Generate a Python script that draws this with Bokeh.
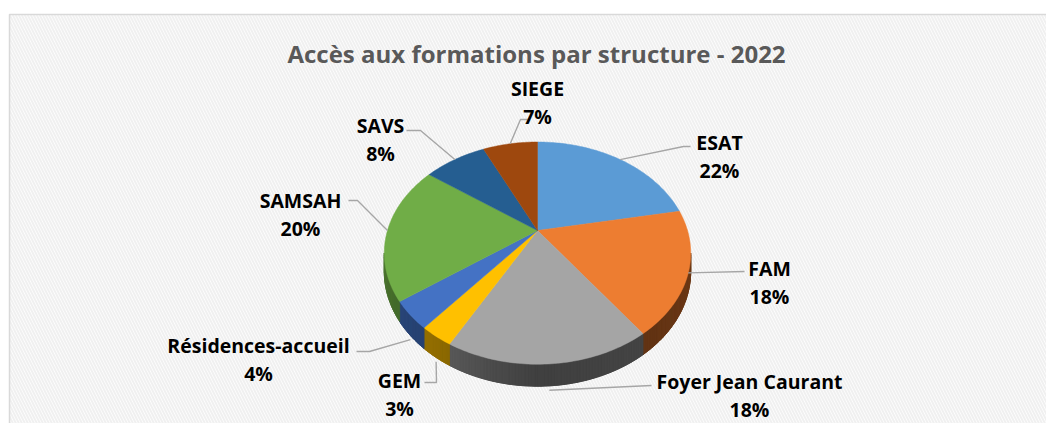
import numpy as np
from bokeh.plotting import figure
from bokeh.models import Range1d
from bokeh.core.properties import value
from bokeh.embed import file_html
from bokeh.resources import INLINE

# ---------------- data ----------------
title_text = "Accès aux formations par structure - 2022"
categories = ["ESAT", "FAM", "Foyer Jean Caurant", "GEM", "Résidences-accueil",
              "SAMSAH", "SAVS", "SIEGE"]
percents = [22, 18, 18, 3, 4, 20, 8, 7]
colors = ["#5B9BD5", "#ED7D31", "#A5A5A5", "#FFC000", "#4472C4",
          "#70AD47", "#255E91", "#9E480E"]

# ---------------- layout ----------------
W, H = 1046, 423
CX, CY = 537, 230            # apex of the pie (screen px)
RX, RY, K, TH = 150, 106.5, 0.2036, 17.5   # perspective ellipse params, thickness

# label name centres (pixels), percent drawn below
label_pos = [(719, 142), (769, 268), (749, 381), (399, 380), (258, 345),
             (300, 200), (380, 125), (537, 88)]
pct_dy = 28
# leader: start near label, elbow; end computed on the pie
leader_start = [(690, 146), (744, 271), (651, 385), (424, 382), (356, 351),
                (348, 200), (406, 130), (527, 119)]
leader_elbow = [(683, 146), (744, 271), (651, 385), (436, 382), (369, 351),
                (357, 200), (420, 130), (520, 119)]
anchor_on_side = [False, False, True, True, True, False, False, False]


def proj(phi_deg, depth=0.0):
    phi = np.radians(phi_deg)
    u, v = np.sin(phi), np.cos(phi)
    s = 1 + K * v
    return CX + RX * u / s, CY - RY * v / s + depth * TH / s


def shade(hexcol, f):
    h = hexcol.lstrip("#")
    r, g, b = (int(h[i:i + 2], 16) for i in (0, 2, 4))
    return "#%02x%02x%02x" % (int(r * f), int(g * f), int(b * f))


def side_factor(phi):
    pts = [(100, 0.47), (140, 0.42), (180, 0.39), (215, 0.57), (260, 0.68)]
    xs_, ys_ = zip(*pts)
    return float(np.interp(phi, xs_, ys_))


p = figure(width=W, height=H, x_range=Range1d(0, W), y_range=Range1d(H, 0),
           output_backend="svg", toolbar_location=None, min_border=0,
           x_axis_location=None, y_axis_location=None)
p.grid.visible = False
p.outline_line_color = None
p.background_fill_color = "white"
p.border_fill_color = "white"

# chart area with diagonal stripes
p.quad(left=9, right=W + 40, top=14, bottom=H + 40, fill_color="white",
       line_color="#d9d9d9", line_width=1.5, hatch_pattern="\\",
       hatch_color="#f0f0f0", hatch_scale=6, hatch_weight=2)

# angles
total = float(sum(percents))
starts, ends = [], []
acc = 0.0
for v in percents:
    starts.append(acc / total * 360.0)
    acc += v
    ends.append(acc / total * 360.0)

# sides (visible front portion)
vis_a = np.degrees(np.arccos(-K))
vis_b = 360 - vis_a
bx, by, bc = [], [], []
sx, sy, sc = [], [], []
for i in range(len(percents)):
    a, b = max(starts[i], vis_a), min(ends[i], vis_b)
    if b <= a:
        continue
    n = max(2, int(np.ceil((b - a) / 1.0)) + 1)
    ph = np.linspace(a, b, n)
    tx_, ty_ = proj(ph)
    bx_, by_ = proj(ph[::-1], 1)
    bx.append(list(tx_) + list(bx_))
    by.append(list(ty_) + list(by_))
    bc.append(shade(colors[i], side_factor((a + b) / 2)))
    for j in range(n - 1):
        p1, p2 = ph[j], ph[j + 1]
        x1, y1 = proj(p1)
        x2, y2 = proj(p2)
        x3, y3 = proj(p2, 1)
        x4, y4 = proj(p1, 1)
        sx.append([x1, x2, x3, x4])
        sy.append([y1, y2, y3, y4])
        sc.append(shade(colors[i], side_factor((p1 + p2) / 2)))
p.patches(bx, by, fill_color=bc, line_color=bc, line_width=0.8)
p.patches(sx, sy, fill_color=sc, line_color=sc, line_width=0.7)

# top faces
tx, ty = [], []
for i in range(len(percents)):
    n = max(2, int(np.ceil(ends[i] - starts[i])) + 1)
    ph = np.linspace(starts[i], ends[i], n)
    xs_, ys_ = proj(ph)
    tx.append([CX] + list(xs_))
    ty.append([CY] + list(ys_))
p.patches(tx, ty, fill_color=colors, line_color=colors, line_width=0.5)

# leader lines
lx, ly = [], []
for i in range(len(percents)):
    mid = (starts[i] + ends[i]) / 2
    ax, ay = proj(mid, 1.2 if anchor_on_side[i] else 0)
    lx.append([leader_start[i][0], leader_elbow[i][0], ax])
    ly.append([leader_start[i][1], leader_elbow[i][1], ay])
p.multi_line(lx, ly, line_color="#a6a6a6", line_width=1.4)

# labels
font = value("Open Sans")
p.text(x=[q[0] for q in label_pos], y=[q[1] for q in label_pos], text=categories,
       text_font=font, text_font_style="bold", text_font_size="19.5px",
       text_color="black", text_align="center", text_baseline="middle")
p.text(x=[q[0] for q in label_pos], y=[q[1] + pct_dy for q in label_pos],
       text=["%d%%" % v for v in percents],
       text_font=font, text_font_style="bold", text_font_size="19.5px",
       text_color="black", text_align="center", text_baseline="middle")

# title
p.text(x=[536], y=[53], text=[title_text], text_font=font, text_font_style="bold",
       text_font_size="24px", text_color="#595959", text_align="center",
       text_baseline="middle")

open("out.html", "w").write(file_html(p, INLINE))
